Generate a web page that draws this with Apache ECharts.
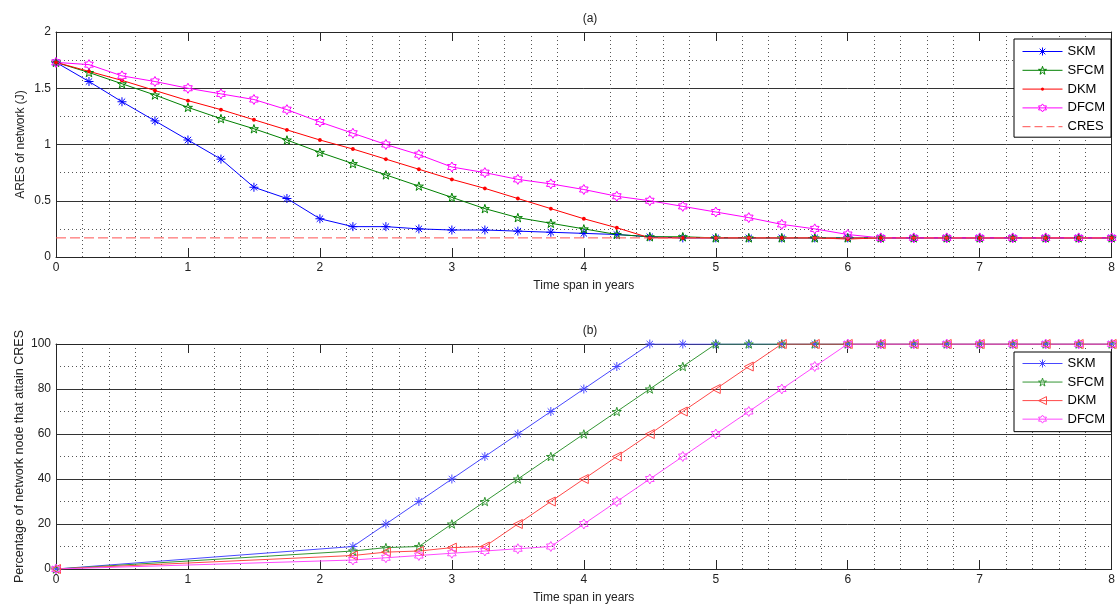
<!DOCTYPE html>
<html>
<head>
<meta charset="utf-8">
<script src="https://cdn.jsdelivr.net/npm/echarts@6/dist/echarts.min.js"></script>
<style>
  html, body { margin: 0; padding: 0; background: #fff; }
  #chart { width: 1118px; height: 605px; }
</style>
</head>
<body>
<div id="chart"></div>
<script>
// ---- (a) average residual energy of the network, sampled every quarter year ----
const yearsA = [0, 0.25, 0.5, 0.75, 1, 1.25, 1.5, 1.75, 2, 2.25, 2.5, 2.75, 3, 3.25, 3.5, 3.75, 4,
                4.25, 4.5, 4.75, 5, 5.25, 5.5, 5.75, 6, 6.25, 6.5, 6.75, 7, 7.25, 7.5, 7.75, 8];
const skmA  = [1.73, 1.56, 1.38, 1.21, 1.04, 0.87, 0.62, 0.52, 0.34, 0.27, 0.27, 0.25, 0.24, 0.24, 0.23, 0.22, 0.21,
               0.20, 0.18, 0.17, 0.17, 0.17, 0.17, 0.17, 0.17, 0.17, 0.17, 0.17, 0.17, 0.17, 0.17, 0.17, 0.17];
const sfcmA = [1.73, 1.64, 1.54, 1.44, 1.33, 1.23, 1.14, 1.04, 0.93, 0.83, 0.73, 0.63, 0.53, 0.43, 0.35, 0.30, 0.25,
               0.20, 0.18, 0.18, 0.17, 0.17, 0.17, 0.17, 0.17, 0.17, 0.17, 0.17, 0.17, 0.17, 0.17, 0.17, 0.17];
const dkmA  = [1.73, 1.65, 1.57, 1.48, 1.39, 1.31, 1.22, 1.13, 1.04, 0.96, 0.87, 0.78, 0.69, 0.61, 0.52, 0.43, 0.34,
               0.26, 0.17, 0.17, 0.17, 0.17, 0.17, 0.17, 0.16, 0.17, 0.17, 0.17, 0.17, 0.17, 0.17, 0.17, 0.17];
const dfcmA = [1.73, 1.71, 1.61, 1.56, 1.50, 1.45, 1.40, 1.31, 1.20, 1.10, 1.00, 0.91, 0.80, 0.75, 0.69, 0.65, 0.60,
               0.54, 0.50, 0.45, 0.40, 0.35, 0.29, 0.25, 0.20, 0.17, 0.17, 0.17, 0.17, 0.17, 0.17, 0.17, 0.17];
const cresLevel = 0.17;
const cresSpan = [0, 8];

// ---- (b) share of nodes that have reached CRES ----
const yearsB = [0, 2.25, 2.5, 2.75, 3, 3.25, 3.5, 3.75, 4, 4.25, 4.5, 4.75, 5, 5.25, 5.5, 5.75, 6,
                6.25, 6.5, 6.75, 7, 7.25, 7.5, 7.75, 8];
const skmB  = [0, 10, 20, 30, 40, 50, 60, 70, 80, 90, 100, 100, 100, 100, 100, 100, 100,
               100, 100, 100, 100, 100, 100, 100, 100];
const sfcmB = [0, 8, 9.5, 10, 20, 30, 40, 50, 60, 70, 80, 90, 100, 100, 100, 100, 100,
               100, 100, 100, 100, 100, 100, 100, 100];
const dkmB  = [0, 6, 7.5, 8, 9.5, 10, 20, 30, 40, 50, 60, 70, 80, 90, 100, 100, 100,
               100, 100, 100, 100, 100, 100, 100, 100];
const dfcmB = [0, 4, 5, 6, 7, 8, 9, 10, 20, 30, 40, 50, 60, 70, 80, 90, 100,
               100, 100, 100, 100, 100, 100, 100, 100];

const methodNames = ['SKM', 'SFCM', 'DKM', 'DFCM'];
const cresName = 'CRES';
const yTicksA = [0, 0.5, 1, 1.5, 2];
const yTicksB = [0, 20, 40, 60, 80, 100];

// ---- marker shapes (all drawn inside a 10x10 box) ----
const MARK = {
  asterisk: 'path://M5,0L5,10M0,5L10,5M1.46,1.46L8.54,8.54M1.46,8.54L8.54,1.46',
  pentagram: 'path://M5,0L6.12,3.455L9.755,3.455L6.815,5.59L7.94,9.045L5,6.91L2.06,9.045L3.185,5.59L0.245,3.455L3.88,3.455Z',
  hexagram: 'path://M5,0L6.443,2.5L9.33,2.5L7.887,5L9.33,7.5L6.443,7.5L5,10L3.557,7.5L0.67,7.5L2.113,5L0.67,2.5L3.557,2.5Z',
  leftTri: 'path://M0,5L10,0L10,10Z',
  // small dot centred in an otherwise empty 10x10 box
  dot: 'path://M0,0L0,0M10,10L10,10M7,5L6.41,6.41L5,7L3.59,6.41L3,5L3.59,3.59L5,3L6.41,3.59Z'
};

const FONT = '"Liberation Sans", Arial, sans-serif';
const TXT = '#222';
const AXIS = '#262626';
const CLEAR = 'rgba(0,0,0,0)';

function pairs(xs, ys) { return xs.map((x, i) => [x, ys[i]]); }

function markerStyle(color, filled) {
  return filled ? { color: color, borderColor: color, borderWidth: 0 }
                : { color: CLEAR, borderColor: color, borderWidth: 1 };
}

function lineSeries(name, xi, yi, xs, ys, color, symbol, size, filled) {
  return {
    type: 'line', name: name, xAxisIndex: xi, yAxisIndex: yi,
    data: pairs(xs, ys),
    symbol: symbol, symbolSize: size, symbolKeepAspect: true, showAllSymbol: true,
    lineStyle: { color: color, width: 1 },
    itemStyle: markerStyle(color, filled),
    emphasis: { disabled: true },
    z: 3
  };
}

function legendItem(name, color, filled) {
  return { name: name, itemStyle: markerStyle(color, filled), lineStyle: { color: color, width: 1 } };
}

const colorsA = ['#0000ff', '#008000', '#ff0000', '#ff00ff'];
const colorsB = ['#4848ff', '#349634', '#ff4848', '#ff48ff'];
const cresColor = '#ff5050';

function xAxes(gridIndex, nameGap) {
  const base = {
    gridIndex: gridIndex, type: 'value', min: 0, max: 8, interval: 1,
    axisLine: { show: true, onZero: false, lineStyle: { color: AXIS, width: 1 } },
    axisTick: { show: true, inside: true, length: 9, lineStyle: { color: AXIS } },
    splitLine: { show: false },
    minorTick: { show: false, splitNumber: 5 },
    minorSplitLine: { show: true, lineStyle: { color: '#555', type: [1, 3], width: 1 } }
  };
  return [
    Object.assign({}, base, {
      position: 'bottom',
      axisLabel: { show: true, margin: 5, color: TXT, fontSize: 12, fontFamily: FONT },
      name: 'Time span in years', nameLocation: 'middle', nameGap: nameGap, nameMoveOverlap: false,
      nameTextStyle: { color: TXT, fontSize: 12, fontFamily: FONT }
    }),
    Object.assign({}, base, {
      position: 'top', axisLabel: { show: false }, minorSplitLine: { show: false }
    })
  ];
}

function yAxes(gridIndex, max, interval, name, nameGap, nameSize) {
  const base = {
    gridIndex: gridIndex, type: 'value', min: 0, max: max, interval: interval,
    axisLine: { show: true, onZero: false, lineStyle: { color: AXIS, width: 1 } },
    axisTick: { show: false }
  };
  return [
    Object.assign({}, base, {
      position: 'left',
      axisLabel: { show: true, margin: 5, color: TXT, fontSize: 12, fontFamily: FONT },
      splitLine: { show: true, lineStyle: { color: '#333', width: 1, type: 'solid' } },
      minorTick: { show: false, splitNumber: 2 },
      minorSplitLine: { show: true, lineStyle: { color: '#555', type: [1, 3], width: 1 } },
      name: name, nameLocation: 'middle', nameGap: nameGap, nameRotate: 90, nameMoveOverlap: false,
      nameTextStyle: { color: TXT, fontSize: nameSize, fontFamily: FONT }
    }),
    Object.assign({}, base, {
      position: 'right', axisLabel: { show: false }, splitLine: { show: false }
    })
  ];
}

const seriesA = [
  lineSeries(methodNames[0], 0, 0, yearsA, skmA,  colorsA[0], MARK.asterisk, 9, false),
  lineSeries(methodNames[1], 0, 0, yearsA, sfcmA, colorsA[1], MARK.pentagram, 9, false),
  lineSeries(methodNames[2], 0, 0, yearsA, dkmA,  colorsA[2], MARK.dot, 10, true),
  lineSeries(methodNames[3], 0, 0, yearsA, dfcmA, colorsA[3], MARK.hexagram, 10, false),
  {
    type: 'line', name: cresName, xAxisIndex: 0, yAxisIndex: 0,
    data: cresSpan.map(x => [x, cresLevel]),
    symbol: 'none',
    lineStyle: { color: cresColor, width: 1, type: [10, 4] },
    itemStyle: { color: cresColor },
    emphasis: { disabled: true },
    z: 4
  }
];

// lower panel series carry an invisible suffix so each legend picks its own markers
const SUFFIX = '\u200b';
const seriesB = [
  lineSeries(methodNames[0] + SUFFIX, 2, 2, yearsB, skmB,  colorsB[0], MARK.asterisk, 9, false),
  lineSeries(methodNames[1] + SUFFIX, 2, 2, yearsB, sfcmB, colorsB[1], MARK.pentagram, 9, false),
  lineSeries(methodNames[2] + SUFFIX, 2, 2, yearsB, dkmB,  colorsB[2], MARK.leftTri, 9, false),
  lineSeries(methodNames[3] + SUFFIX, 2, 2, yearsB, dfcmB, colorsB[3], MARK.hexagram, 10, false)
];

const legendBase = {
  orient: 'vertical', left: 1014, itemWidth: 40, itemHeight: 10,
  borderColor: '#000', borderWidth: 1, backgroundColor: '#fff', borderRadius: 0,
  textStyle: { color: '#000', fontSize: 13, fontFamily: FONT },
  selectedMode: false, z: 10
};

const chart = echarts.init(document.getElementById('chart'), null, { renderer: 'canvas' });
chart.setOption({
  animation: false,
  backgroundColor: '#fff',
  title: [
    { text: '(a)', left: 585, top: 8, textAlign: 'center',
      textStyle: { color: TXT, fontSize: 12, fontWeight: 'normal', fontFamily: FONT } },
    { text: '(b)', left: 585, top: 320, textAlign: 'center',
      textStyle: { color: TXT, fontSize: 12, fontWeight: 'normal', fontFamily: FONT } }
  ],
  grid: [
    { left: 56, top: 32, right: 4, height: 225, containLabel: false },
    { left: 56, top: 344, right: 4, height: 226, containLabel: false }
  ],
  xAxis: xAxes(0, 23).concat(xAxes(1, 23)),
  yAxis: yAxes(0, yTicksA[yTicksA.length - 1], yTicksA[1], 'ARES of network (J)', 29, 12)
    .concat(yAxes(1, yTicksB[yTicksB.length - 1], yTicksB[1], 'Percentage of network node that attain CRES', 30, 12.5)),
  legend: [
    Object.assign({}, legendBase, {
      top: 39, itemGap: 5.8, padding: [6, 6, 4, 8],
      data: methodNames.map((n, i) => legendItem(n, colorsA[i], i === 2)).concat([
        { name: cresName, itemStyle: { color: CLEAR, borderWidth: 0 },
          lineStyle: { color: cresColor, width: 1, type: [8, 4] } }
      ])
    }),
    Object.assign({}, legendBase, {
      top: 352, itemGap: 5.55, padding: [5, 6, 6, 8],
      data: methodNames.map((n, i) => legendItem(n + SUFFIX, colorsB[i], false))
    })
  ],
  series: seriesA.concat(seriesB)
});
</script>
</body>
</html>
